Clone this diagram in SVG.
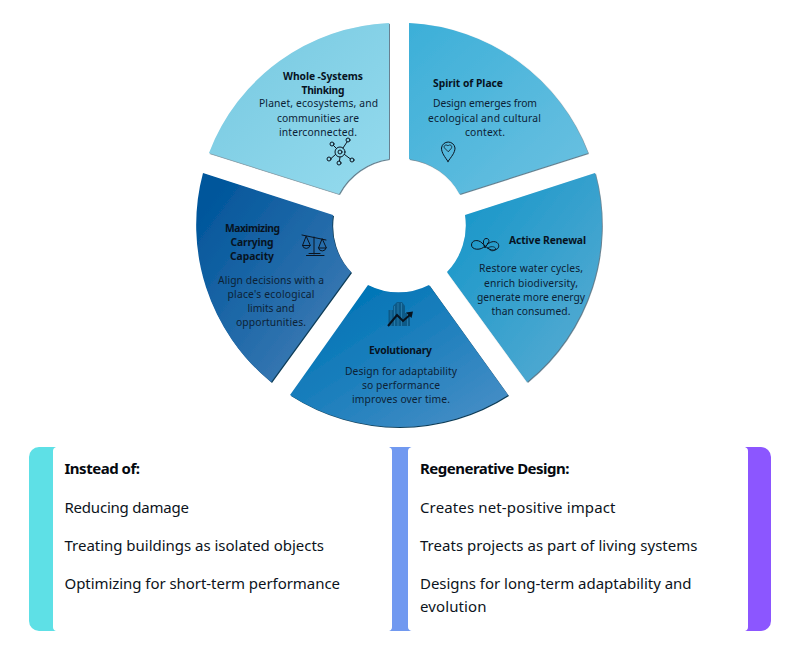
<svg xmlns="http://www.w3.org/2000/svg" width="799" height="664" viewBox="0 0 799 664">
<style>
text{font-family:"Noto Sans","Liberation Sans",sans-serif}
.h{font-size:10.300px;font-weight:700;fill:#07131f;text-anchor:middle}
.b{font-size:10.300px;fill:#0c2236;text-anchor:middle}
.t{font-size:15px;fill:#0c1320}
.tb{font-size:15px;font-weight:700;fill:#05090f}
.seg{filter:url(#sh)}
.dk{filter:url(#shd)}
.i{fill:none;stroke:#0a1420;stroke-width:1;stroke-linecap:round;stroke-linejoin:round}
</style>
<defs>
<filter id="sh" x="-5%" y="-5%" width="110%" height="110%"><feDropShadow dx="0.8" dy="0.8" stdDeviation="0.6" flood-color="#0b3a55" flood-opacity="0.8"/></filter>
<filter id="shd" x="-5%" y="-5%" width="110%" height="110%"><feDropShadow dx="1" dy="1" stdDeviation="0.5" flood-color="#04304f" flood-opacity="0.95"/></filter>
<linearGradient id="g1" x1="0" y1="0" x2="1" y2="1"><stop offset="0" stop-color="#76c8e0"/><stop offset="1" stop-color="#95dbee"/></linearGradient>
<linearGradient id="g2" x1="0" y1="0" x2="1" y2="1"><stop offset="0" stop-color="#3cafd8"/><stop offset="1" stop-color="#6cc1e1"/></linearGradient>
<linearGradient id="g3" x1="0" y1="0" x2="1" y2="1"><stop offset="0" stop-color="#1094c8"/><stop offset="1" stop-color="#5cadd3"/></linearGradient>
<linearGradient id="g4" x1="0" y1="0" x2="1" y2="1"><stop offset="0.1" stop-color="#01569b"/><stop offset="1" stop-color="#4781b9"/></linearGradient>
<linearGradient id="g5" x1="0" y1="0" x2="1" y2="1"><stop offset="0.2" stop-color="#0376b7"/><stop offset="1" stop-color="#4d90c7"/></linearGradient>
</defs>
<rect width="799" height="664" fill="#fff"/>

<g id="whole-systems">
<path class="seg" fill="url(#g1)" d="M389 23A202 202 0 0 0 209 153L339 194A67 67 0 0 1 389 159Z"/>
<text class="h" x="323" y="80" textLength="80">Whole -Systems</text>
<text class="h" x="323" y="94" textLength="43">Thinking</text>
<text class="b" x="318.500" y="107" textLength="119">Planet, ecosystems, and</text>
<text class="b" x="318" y="122" textLength="82">communities are</text>
<text class="b" x="318" y="136" textLength="78">interconnected.</text>
<g class="i">
<circle cx="340" cy="152" r="5"/><circle cx="340" cy="152" r="2"/>
<circle cx="332" cy="144" r="2"/><circle cx="348" cy="140" r="2"/><circle cx="352" cy="160" r="2"/><circle cx="339" cy="163" r="2"/><circle cx="329" cy="159" r="2"/>
<path d="M333.500 145.500L336.500 148.500M347 142L343 148M350.500 159L344.500 154.500M339.500 161L340 157M331 158.500L335.500 154.500"/>
</g>
</g>

<g id="spirit-of-place">
<path class="seg" fill="url(#g2)" d="M409 23A202 202 0 0 1 588 153L459.500 194A67 67 0 0 0 409 159Z"/>
<text class="h" x="468" y="87" textLength="70">Spirit of Place</text>
<text class="b" x="485" y="107" textLength="104">Design emerges from</text>
<text class="b" x="484.500" y="122" textLength="113">ecological and cultural</text>
<text class="b" x="485" y="136" textLength="40">context.</text>
<g class="i">
<path d="M448 161.500C445 157 441.500 153 441.500 148A6.800 6.800 0 0 1 455 148C455 153 451 157 448 161.500Z"/>
<path d="M448 151.500L444.500 148C443 145.500 446.500 143.800 448 146C449.500 143.800 453 145.500 451.500 148Z" stroke-width="0.8"/>
</g>
</g>

<g id="active-renewal">
<path class="seg" fill="url(#g3)" d="M595 173A202 202 0 0 1 527 382L447 272A67 67 0 0 0 465 215Z"/>
<text class="h" x="547.500" y="244" textLength="77">Active Renewal</text>
<text class="b" x="531" y="272" textLength="104">Restore water cycles,</text>
<text class="b" x="531" y="287" textLength="94">enrich biodiversity,</text>
<text class="b" x="531" y="301" textLength="108">generate more energy</text>
<text class="b" x="531" y="315" textLength="79">than consumed.</text>
<g class="i">
<path d="M485 246C481 251 471.500 250 471.500 245C471.500 240 478 239 482 243C486 247 490 251 495 250C499 249 500 245 497 242.500C493 240 487 243 485 248C483 244 482.500 239 486 238.500C489 238 490.500 242 487 244"/>
<path d="M488 248C490 246 495 246 496 249C493 252 490 251 488 248Z" stroke-width="0.8"/>
</g>
</g>

<g id="maximizing-carrying-capacity">
<path class="dk" fill="url(#g4)" d="M203 173A202 202 0 0 0 271 382L351 272A67 67 0 0 1 333 215Z"/>
<text class="h" x="252.500" y="232" textLength="55">Maximizing</text>
<text class="h" x="252" y="246" textLength="43">Carrying</text>
<text class="h" x="252" y="260" textLength="44">Capacity</text>
<text class="b" x="271" y="284" textLength="106">Align decisions with a</text>
<text class="b" x="271" y="298" textLength="87">place's ecological</text>
<text class="b" x="271" y="312" textLength="47">limits and</text>
<text class="b" x="271" y="326" textLength="70">opportunities.</text>
<g class="i">
<path d="M302 235L326 240M314 237V254M306.500 255.500H324M309 253.500H320"/>
<path d="M306 236.500L302.500 245.500H310ZM302.500 245.500A3.800 3.500 0 0 0 310 245.500M322 239L318.500 248H326ZM318.500 248A3.800 3.500 0 0 0 326 248"/>
</g>
</g>

<g id="evolutionary">
<path class="dk" fill="url(#g5)" d="M290 395A202 202 0 0 0 508 395L429 285A67 67 0 0 1 368 285Z"/>
<text class="h" x="400.500" y="354" textLength="63">Evolutionary</text>
<text class="b" x="401" y="375" textLength="112">Design for adaptability</text>
<text class="b" x="401" y="389" textLength="78">so performance</text>
<text class="b" x="401" y="403" textLength="98">improves over time.</text>
<path d="M388.500 326V310H393V306L397 302H402L405 306V313H410V326Z" fill="#0d5a88"/>
<path d="M391 310V326M394.500 306V326M398 303V326M401.500 303V326M407.500 314V326" fill="none" stroke="#2f86b8" stroke-width="0.7"/>
<path d="M388 326L397 315L403 321L411 314" fill="none" stroke="#07131f" stroke-width="2"/>
<path d="M413 311.500L406 312.500L411.500 318Z" fill="#07131f"/>
</g>

<g id="panel-instead">
<path fill="#5ee0e6" d="M39 447H56Q53 448 53 451V627Q53 630 56 631H39A10 10 0 0 1 29 621V457A10 10 0 0 1 39 447Z"/>
<text class="tb" x="64.500" y="474" textLength="75.500">Instead of:</text>
<text class="t" x="64.500" y="513" textLength="124.500">Reducing damage</text>
<text class="t" x="64.500" y="551" textLength="259.500">Treating buildings as isolated objects</text>
<text class="t" x="64.500" y="589" textLength="275.500">Optimizing for short-term performance</text>
</g>

<g id="panel-divider">
<path fill="#7199f0" d="M389 447H411.500Q408 448 408 451V627Q408 630 411.500 631H389Q392 630 392 627V451Q392 448 389 447Z"/>
</g>

<g id="panel-regenerative">
<path fill="#8c56ff" d="M745 447H761A10 10 0 0 1 771 457V621A10 10 0 0 1 761 631H745Q748 630 748 627V451Q748 448 745 447Z"/>
<text class="tb" x="420" y="474" textLength="149.500">Regenerative Design:</text>
<text class="t" x="420" y="513" textLength="195.500">Creates net-positive impact</text>
<text class="t" x="420" y="551" textLength="277.500">Treats projects as part of living systems</text>
<text class="t" x="420" y="589" textLength="271.500">Designs for long-term adaptability and</text>
<text class="t" x="420" y="612" textLength="66.500">evolution</text>
</g>
</svg>
